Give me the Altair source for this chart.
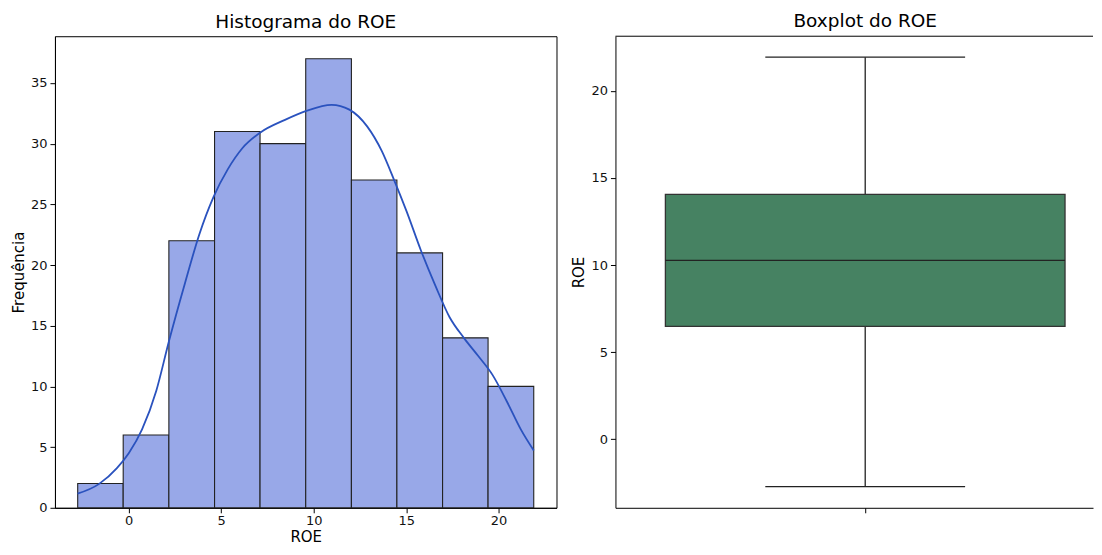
import altair as alt
import pandas as pd

# ---- Histogram data ----
bin_start = [-2.76, -0.30, 2.17, 4.64, 7.10, 9.57, 12.04, 14.50, 16.97, 19.43]
bin_end = [-0.30, 2.17, 4.64, 7.10, 9.57, 12.04, 14.50, 16.97, 19.43, 21.90]
counts = [2, 6, 22, 31, 30, 37, 27, 21, 14, 10]

# ---- KDE curve ----
kde_x = [-2.77, -1.6, -0.64, 0.0, 0.72, 1.49, 2.17, 3.04, 3.81, 4.58, 5.36, 6.13,
         7.1, 8.45, 9.6, 10.97, 11.93, 12.9, 13.68, 14.35, 15.03, 15.8, 16.58,
         17.35, 18.12, 18.9, 19.67, 20.44, 21.2, 21.9]
kde_y = [1.16, 1.97, 3.27, 4.5, 6.46, 9.65, 13.7, 18.5, 22.5, 25.6, 27.9, 29.6,
         30.9, 31.96, 32.7, 33.2, 32.8, 31.4, 29.4, 27.0, 24.4, 21.2, 18.3,
         15.7, 14.0, 12.5, 10.95, 8.78, 6.46, 4.72]

# ---- Boxplot stats ----
box_min = [-2.72]
box_q1 = [6.48]
box_median = [10.27]
box_q3 = [14.05]
box_max = [21.93]

FONT = "DejaVu Sans"
BAR_FILL = "#98A8E8"
LINE_COLOR = "#2A52BE"
BOX_FILL = "#468262"

PLOT_H = 472
RIGHT_W = 478

hist_df = pd.DataFrame({"start": bin_start, "end": bin_end, "count": counts,
                        "base": [0] * len(counts)})
kde_df = pd.DataFrame({"x": kde_x, "y": kde_y})
box_df = pd.DataFrame({"min": box_min, "q1": box_q1, "median": box_median,
                       "q3": box_q3, "max": box_max,
                       "left": [-0.4], "right": [0.4], "cl": [-0.2], "cr": [0.2], "c": [0.0]})

xscale_h = alt.Scale(domain=[-3.99, 23.13], nice=False, zero=False)
yscale_h = alt.Scale(domain=[0, 38.85], nice=False)

bars = alt.Chart(hist_df).mark_bar(fill=BAR_FILL, stroke="#222222", strokeWidth=1.1, opacity=1).encode(
    x=alt.X("start:Q", scale=xscale_h, title="ROE",
            axis=alt.Axis(values=[0, 5, 10, 15, 20])),
    x2="end:Q",
    y=alt.Y("count:Q", scale=yscale_h, title="Frequência",
            axis=alt.Axis(values=[0, 5, 10, 15, 20, 25, 30, 35])),
    y2="base:Q",
)
line = alt.Chart(kde_df).mark_line(color=LINE_COLOR, strokeWidth=1.8, interpolate="monotone").encode(
    x=alt.X("x:Q", scale=xscale_h),
    y=alt.Y("y:Q", scale=yscale_h),
)
left = alt.layer(bars, line).properties(
    width=502, height=PLOT_H,
    title=alt.TitleParams("Histograma do ROE", fontSize=18.5, font=FONT, fontWeight="normal", offset=5),
    view=alt.ViewBackground(stroke="#000000", strokeWidth=1),
)

xscale_b = alt.Scale(domain=[-0.5, 0.456], nice=False, zero=False)
yscale_b = alt.Scale(domain=[-3.93, 23.13], nice=False, zero=False)

whisker = alt.Chart(box_df).mark_rule(color="#222222", strokeWidth=1.3).encode(
    x=alt.X("c:Q", scale=xscale_b, title=None,
            axis=alt.Axis(values=[0], labels=False, domainColor="#000000")),
    y=alt.Y("min:Q", scale=yscale_b, title="ROE",
            axis=alt.Axis(values=[0, 5, 10, 15, 20], domainColor="#000000")),
    y2="max:Q",
)
box = alt.Chart(box_df).mark_bar(fill=BOX_FILL, stroke="#333333", strokeWidth=1.3, opacity=1).encode(
    x=alt.X("left:Q", scale=xscale_b), x2="right:Q",
    y=alt.Y("q1:Q", scale=yscale_b), y2="q3:Q",
)
median = alt.Chart(box_df).mark_rule(color="#222222", strokeWidth=1.3).encode(
    x=alt.X("left:Q", scale=xscale_b), x2="right:Q",
    y=alt.Y("median:Q", scale=yscale_b),
)
cap_lo = alt.Chart(box_df).mark_rule(color="#222222", strokeWidth=1.3).encode(
    x=alt.X("cl:Q", scale=xscale_b), x2="cr:Q",
    y=alt.Y("min:Q", scale=yscale_b),
)
cap_hi = alt.Chart(box_df).mark_rule(color="#222222", strokeWidth=1.3).encode(
    x=alt.X("cl:Q", scale=xscale_b), x2="cr:Q",
    y=alt.Y("max:Q", scale=yscale_b),
)
top_line = alt.Chart(box_df).mark_rule(color="#000000", strokeWidth=1).encode(
    x=alt.value(0), x2=alt.value(RIGHT_W), y=alt.value(0),
)
right = alt.layer(whisker, box, median, cap_lo, cap_hi, top_line).properties(
    width=RIGHT_W, height=PLOT_H,
    title=alt.TitleParams("Boxplot do ROE", fontSize=18.5, font=FONT, fontWeight="normal", offset=5, dx=11),
    view=alt.ViewBackground(stroke="transparent"),
)

chart = alt.hconcat(left, right, spacing=13).properties(
    padding={"top": 3, "left": 2, "right": 0, "bottom": 0},
).configure(
    font=FONT,
).configure_axis(
    grid=False,
    domain=True,
    domainColor="#000000",
    domainWidth=1,
    tickColor="#000000",
    tickSize=5,
    tickWidth=1,
    labelFont=FONT,
    labelFontSize=13,
    labelColor="#111111",
    labelPadding=3,
    titleFont=FONT,
    titleFontSize=15,
    titleFontWeight="normal",
    titleColor="#000000",
    titlePadding=4,
).configure_axisX(
    labelPadding=2,
    titlePadding=2,
).configure_title(
    color="#000000",
    anchor="middle",
)

chart.save("out.html", embed_options={"renderer": "svg", "actions": False})
